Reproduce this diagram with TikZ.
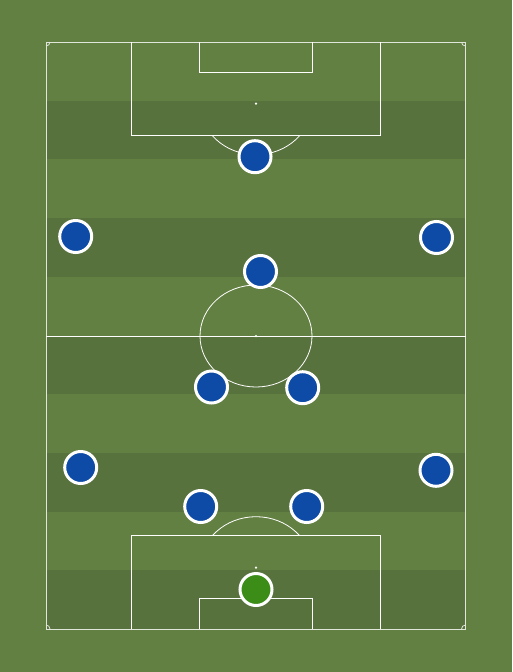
\documentclass[tikz,border=0pt]{standalone}
\usetikzlibrary{shadows}
\definecolor{pitchlight}{HTML}{628042}
\definecolor{pitchdark}{HTML}{58723E}
\definecolor{kitblue}{HTML}{0D4BA6}
\definecolor{kitgreen}{HTML}{3C8C18}
\tikzset{
  pline/.style={draw=white, line width=1pt},
  outline/.style={draw=white!80!pitchlight, line width=1pt},
  player/.style={circle, fill=kitblue, draw=white, line width=3pt, minimum size=32pt, inner sep=0pt,
     drop shadow={opacity=0.3, shadow xshift=0.8pt, shadow yshift=-1.2pt}},
  keeper/.style={player, fill=kitgreen},
  spotdot/.style={circle, fill=white, inner sep=0pt, minimum size=2.5pt}
}
\begin{document}
\begin{tikzpicture}[x=1pt, y=-1pt]
\fill[pitchlight] (0,0) rectangle (512,672);
\useasboundingbox (0,0) rectangle (512,672);
% stripes
\foreach \k in {0,...,4} {
  \fill[pitchdark] (46,{100.7+117.4*\k}) rectangle (465.5,{159.4+117.4*\k});
}
% outer boundary and halfway line
\draw[outline] (46,42) rectangle (465.5,629);
\draw[pline] (46,336) -- (465.5,336);
% centre circle and spot
\draw[pline, line width=0.8pt] (256,336) ellipse [x radius=56, y radius=51];
\node[spotdot] (cspot) at (256,336) {};
% top penalty area
\draw[pline] (131.5,42) -- (131.5,135.3) -- (380.5,135.3) -- (380.5,42);
\draw[pline] (199.5,42) -- (199.5,72.7) -- (312.5,72.7) -- (312.5,42);
\node[spotdot] (tspot) at (256,103.7) {};
\begin{scope}
  \clip (100,135.8) rectangle (420,200);
  \draw[pline, line width=0.8pt] (256,103.7) ellipse [x radius=56, y radius=51];
\end{scope}
% bottom penalty area
\draw[pline] (131.5,629) -- (131.5,535.7) -- (380.5,535.7) -- (380.5,629);
\draw[pline] (199.5,629) -- (199.5,598.3) -- (312.5,598.3) -- (312.5,629);
\node[spotdot] (bspot) at (256,567.7) {};
\begin{scope}
  \clip (100,480) rectangle (420,535.2);
  \draw[pline, line width=0.8pt] (256,567.7) ellipse [x radius=56, y radius=51];
\end{scope}
% corner arcs
\draw[outline, line width=0.8pt] (50,42) arc[start angle=0, end angle=90, radius=4];
\draw[outline, line width=0.8pt] (461.5,42) arc[start angle=180, end angle=90, radius=4];
\draw[outline, line width=0.8pt] (50,629) arc[start angle=0, end angle=-90, radius=4];
\draw[outline, line width=0.8pt] (461.5,629) arc[start angle=180, end angle=270, radius=4];
% players
\node[player] (p1) at (255,156.7) {};
\node[player] (p2) at (75.7,236.5) {};
\node[player] (p3) at (436.5,237.5) {};
\node[player] (p4) at (260.5,271.5) {};
\node[player] (p5) at (211.5,387) {};
\node[player] (p6) at (302.7,387.7) {};
\node[player] (p7) at (80.7,467.5) {};
\node[player] (p8) at (436,470.3) {};
\node[player] (p9) at (200.7,506.5) {};
\node[player] (p10) at (306.7,506.5) {};
\node[keeper] (gk) at (256,589.5) {};
\end{tikzpicture}
\end{document}
